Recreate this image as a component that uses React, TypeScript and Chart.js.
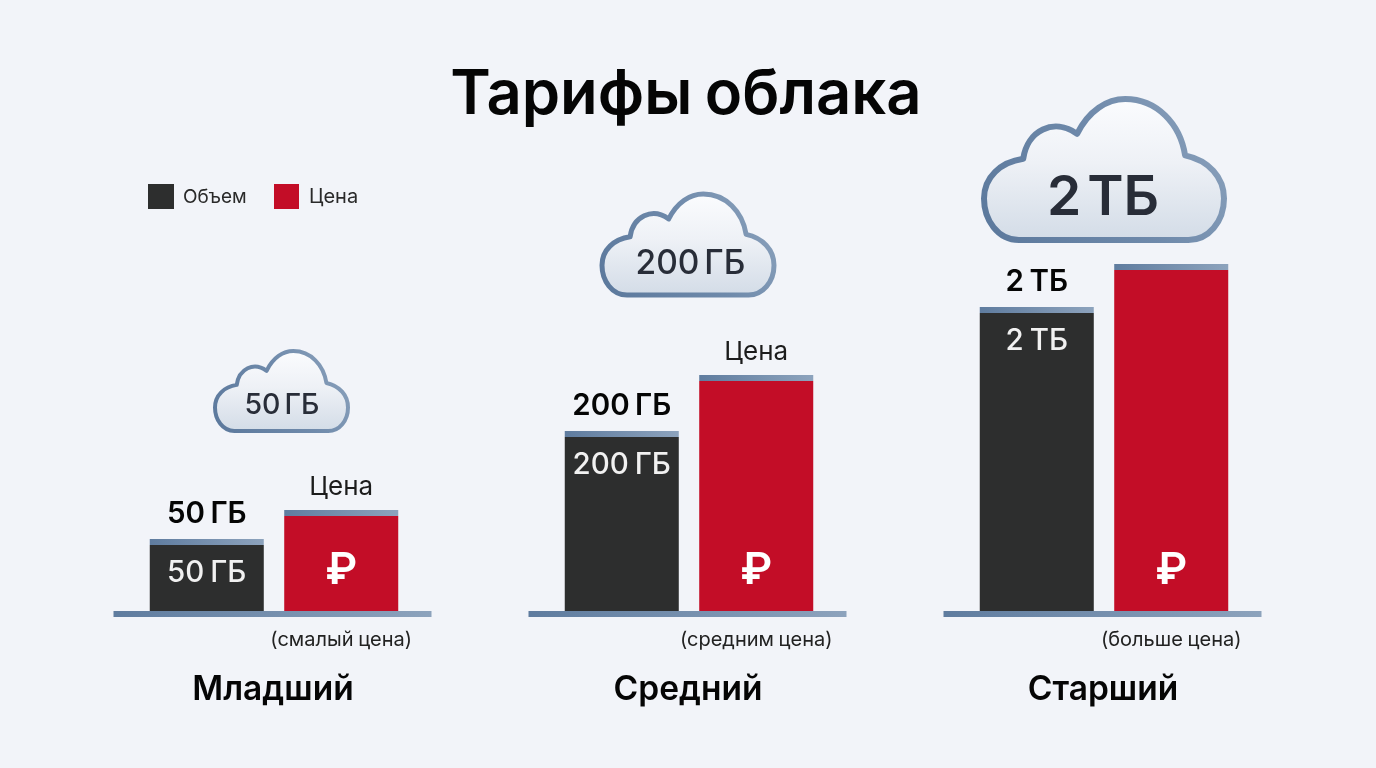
import React, { useEffect, useRef } from "react";
import { Chart, registerables } from "chart.js";

Chart.register(...registerables);

const categories = ["Младший", "Средний", "Старший"];
const volumeLabels = ["50 ГБ", "200 ГБ", "2 ТБ"];
const priceNotes = ["(смалый цена)", "(средним цена)", "(больше цена)"];
const priceLabels = ["Цена", "Цена", ""];
const volumeBody = [66, 174, 298];
const priceBody = [95, 230, 341];
const volumeCap = [6, 6, 6];
const priceCap = [6, 6, 6];

const FONT = "Inter, 'Noto Sans', sans-serif";
const BG = "#f2f4f9";
const DARK = "#2d2e2e";
const RED = "#c30d27";
const BLUE_A = "#5f7c9f";
const BLUE_B = "#8da3bd";

const cloudBoxes = [
  { x: 215, y: 351, w: 133, h: 80, lw: 4, size: 28.5, weight: 550, sp: -3.5, tx: 282, ty: 405.5 },
  { x: 602, y: 194, w: 172, h: 101, lw: 5, size: 33.5, weight: 550, sp: -4, tx: 690.5, ty: 264 },
  { x: 984, y: 99, w: 240, h: 141, lw: 6, size: 55, weight: 600, sp: -8, tx: 1103, ty: 198 },
];

function cloudPath(ctx: CanvasRenderingContext2D, b: any) {
  const X = (v: number) => b.x + ((v - 70) / 722) * b.w;
  const Y = (v: number) => b.y + ((v - 55) / 425) * b.h;
  const C = (a: number, c: number, d: number, e: number, f: number, g: number) =>
    ctx.bezierCurveTo(X(a), Y(c), X(d), Y(e), X(f), Y(g));
  ctx.beginPath();
  ctx.moveTo(X(175), Y(480));
  C(112, 480, 70, 420, 70, 355);
  C(70, 290, 120, 245, 188, 235);
  C(200, 150, 280, 110, 350, 160);
  C(385, 90, 440, 55, 495, 55);
  C(590, 55, 660, 130, 675, 225);
  C(745, 240, 792, 290, 792, 355);
  C(792, 425, 745, 480, 685, 480);
  ctx.closePath();
}

const label = (
  ctx: any,
  text: string,
  x: number,
  y: number,
  font: string,
  color: string,
  align: CanvasTextAlign = "center",
  spacing = 0
) => {
  ctx.font = font;
  ctx.fillStyle = color;
  ctx.textAlign = align;
  ctx.textBaseline = "middle";
  ctx.wordSpacing = `${spacing}px`;
  ctx.fillText(text, x, y);
  ctx.wordSpacing = "0px";
};

const decorations = {
  id: "decorations",
  afterDatasetsDraw(chart: any) {
    const ctx: CanvasRenderingContext2D = chart.ctx;
    const vCap = chart.getDatasetMeta(1).data;
    const pBody = chart.getDatasetMeta(2).data;
    const pCap = chart.getDatasetMeta(3).data;
    const vBody = chart.getDatasetMeta(0).data;
    const base = chart.scales.y.getPixelForValue(0);
    ctx.save();

    label(ctx, "Тарифы облака", 686, 96, `600 61.5px ${FONT}`, "#050505", "center", -3);

    // legend
    ctx.fillStyle = DARK;
    ctx.fillRect(148, 184, 26, 25);
    ctx.fillStyle = RED;
    ctx.fillRect(274, 184, 25, 25);
    label(ctx, chart.data.datasets[0].label, 183, 197, `400 19px ${FONT}`, "#2a2a2a", "left");
    label(ctx, chart.data.datasets[2].label, 309, 197, `400 20px ${FONT}`, "#2a2a2a", "left");

    categories.forEach((name, i) => {
      const center = chart.scales.x.getPixelForValue(i);
      // baseline
      const g = ctx.createLinearGradient(center - 160, 0, center + 160, 0);
      g.addColorStop(0, BLUE_A);
      g.addColorStop(1, BLUE_B);
      ctx.fillStyle = g;
      ctx.fillRect(center - 160.5, base, 318, 6);

      // labels
      label(ctx, volumeLabels[i], vCap[i].x, vCap[i].y - 25, `600 29.5px ${FONT}`, "#050505", "center", -2);
      label(ctx, volumeLabels[i], vBody[i].x, vCap[i].y + 34, `500 29.5px ${FONT}`, "#f1f1f1", "center", -2);
      if (priceLabels[i]) label(ctx, priceLabels[i], pCap[i].x, pCap[i].y - 23, `400 26px ${FONT}`, "#1c1c1c");
      label(ctx, "₽", pBody[i].x, base - 40, `600 44px ${FONT}`, "#ffffff");
      label(ctx, priceNotes[i], pBody[i].x, base + 29, `400 20px ${FONT}`, "#222222", "center", -1);
      label(ctx, name, center - 1, base + 79, `600 33.5px ${FONT}`, "#050505");

      // cloud
      const b = cloudBoxes[i];
      cloudPath(ctx, b);
      const fill = ctx.createLinearGradient(0, b.y, 0, b.y + b.h);
      fill.addColorStop(0, "#fbfcfe");
      fill.addColorStop(0.45, "#eef1f6");
      fill.addColorStop(1, "#d3dce7");
      ctx.fillStyle = fill;
      ctx.fill();
      const st = ctx.createLinearGradient(b.x, b.y + b.h, b.x + b.w, b.y);
      st.addColorStop(0, "#5b789c");
      st.addColorStop(0.55, "#6f8aab");
      st.addColorStop(1, "#8ea4be");
      ctx.strokeStyle = st;
      ctx.lineWidth = b.lw;
      ctx.lineJoin = "round";
      ctx.stroke();
      label(ctx, volumeLabels[i], b.tx, b.ty, `${b.weight} ${b.size}px ${FONT}`, "#282d38", "center", b.sp);
    });
    ctx.restore();
  },
};

const capColor = (side: number) => (c: any) => {
  const x = c.chart.scales.x;
  if (!x || x.width === undefined || c.dataIndex === undefined) return BLUE_A;
  const mid = x.getPixelForValue(c.dataIndex) + side * 67;
  const g = c.chart.ctx.createLinearGradient(mid - 57, 0, mid + 57, 0);
  g.addColorStop(0, BLUE_A);
  g.addColorStop(1, BLUE_B);
  return g;
};

export default function App() {
  const ref = useRef<HTMLCanvasElement>(null);
  useEffect(() => {
    document.body.style.margin = "0";
    document.body.style.background = BG;
    const chart = new Chart(ref.current!, {
      type: "bar",
      data: {
        labels: categories,
        datasets: [
          { label: "Объем", data: volumeBody, backgroundColor: DARK, stack: "volume" },
          { label: "Объем (кромка)", data: volumeCap, backgroundColor: capColor(-1), stack: "volume" },
          { label: "Цена", data: priceBody, backgroundColor: RED, stack: "price" },
          { label: "Цена (кромка)", data: priceCap, backgroundColor: capColor(1), stack: "price" },
        ],
      },
      options: {
        responsive: false,
        animation: false,
        layout: { padding: { left: 66.5, right: 64.5, top: 40, bottom: 157 } },
        datasets: { bar: { categoryPercentage: 0.648, barPercentage: 0.848, borderWidth: 0 } },
        scales: {
          x: { display: false, stacked: true },
          y: { display: false, stacked: true, min: 0, max: 571 },
        },
        plugins: { legend: { display: false }, tooltip: { enabled: false }, title: { display: false } },
      } as any,
      plugins: [decorations],
    });
    return () => chart.destroy();
  }, []);
  return (
    <div style={{ position: "absolute", left: 0, top: 0, width: 1376, height: 768, background: BG }}>
      <canvas ref={ref} width={1376} height={768} style={{ display: "block" }} />
    </div>
  );
}
